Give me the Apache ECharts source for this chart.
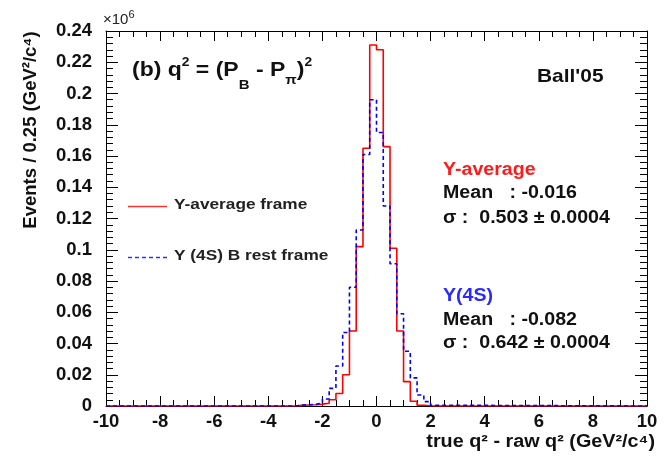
<!DOCTYPE html>
<html><head><meta charset="utf-8">
<script src="https://cdn.jsdelivr.net/npm/echarts@6/dist/echarts.min.js"></script>
<style>html,body{margin:0;padding:0;background:#fff}#c{width:665px;height:463px}</style>
</head><body><div id="c"></div>
<script>
// ---- data ----
const binWidth = 0.25;
const binLeft = [-3,-2.75,-2.5,-2.25,-2,-1.75,-1.5,-1.25,-1,-0.75,-0.5,-0.25,0,0.25,0.5,0.75,1,1.25,1.5,1.75,2];
const redValues  = [0.0004,0.0006,0.0008,0.0012,0.0018,0.004,0.008,0.020,0.048,0.102,0.165,0.231,0.228,0.166,0.101,0.048,0.0156,0.003,0.0005,0.0002,0];
const blueValues = [0.0006,0.0008,0.001,0.002,0.0045,0.0113,0.0256,0.047,0.076,0.1126,0.161,0.196,0.175,0.128,0.091,0.059,0.035,0.018,0.007,0.0028,0.0005];
const xTickLabels = ['-10','-8','-6','-4','-2','0','2','4','6','8','10'];
const yTickLabels = ['0','0.02','0.04','0.06','0.08','0.1','0.12','0.14','0.16','0.18','0.2','0.22','0.24'];
const seriesNames = ['Y-average frame','Y (4S) B rest frame'];

const xMin=-10, xMax=10, xStep=2, yMin=0, yMax=0.24, yStep=0.02;
const FF = "'Liberation Sans', Arial, sans-serif";

function histData(vals){
  const d=[[xMin,0]];
  for(let i=0;i<binLeft.length;i++) d.push([binLeft[i], vals[i]]);
  d.push([binLeft[binLeft.length-1]+binWidth, 0]);
  d.push([xMax,0]);
  return d;
}
const lblStyle = {fontFamily:FF, fontWeight:'bold', fontSize:18.5, color:'#111'};
function xAx(pos, showLabel){
  return {type:'value', position:pos, min:xMin, max:xMax, interval:xStep,
    axisLine:{show:true, onZero:false, lineStyle:{color:'#000', width:1}},
    axisTick:{show:true, inside:true, length:10, lineStyle:{color:'#000'}},
    minorTick:{show:true, splitNumber:4, length:6, lineStyle:{color:'#000'}},
    splitLine:{show:false},
    axisLabel:Object.assign({show:showLabel, margin:6, formatter:v=>xTickLabels[Math.round((v-xMin)/xStep)]}, lblStyle)};
}
function yAx(pos, showLabel){
  return {type:'value', position:pos, min:yMin, max:yMax, interval:yStep,
    axisLine:{show:true, onZero:false, lineStyle:{color:'#000', width:1}},
    axisTick:{show:true, inside:true, length:12, lineStyle:{color:'#000'}},
    minorTick:{show:true, splitNumber:5, length:7, lineStyle:{color:'#000'}},
    splitLine:{show:false},
    axisLabel:Object.assign({show:showLabel, margin:14, formatter:v=>yTickLabels[Math.round((v-yMin)/yStep)]}, lblStyle)};
}
function txt(x,y,text,font,fill,opts){
  return Object.assign({type:'text', x:x, y:y, z:100, silent:true,
    style:{text:text, font:font, fill:fill, textAlign:'left', textVerticalAlign:'middle'}}, opts||{});
}
const B = (s)=>'bold '+s+'px '+FF;

const chart = echarts.init(document.getElementById('c'));
chart.setOption({
  animation:false,
  backgroundColor:'#fff',
  grid:{left:106, right:18, top:31, bottom:57, containLabel:false},
  xAxis:[xAx('bottom', true), xAx('top', false)],
  yAxis:[yAx('left', true), yAx('right', false)],
  series:[
    {name:seriesNames[0], type:'line', step:'end', xAxisIndex:0, yAxisIndex:0, showSymbol:false, symbol:'none',
     data:histData(redValues), lineStyle:{color:'#ff0000', width:1.6}, z:3},
    {name:seriesNames[1], type:'line', step:'end', xAxisIndex:0, yAxisIndex:0, showSymbol:false, symbol:'none',
     data:histData(blueValues), lineStyle:{color:'#0000ff', width:1.6, type:[4,3]}, z:4}
  ],
  graphic:[
    // x10^6
    {type:'text', x:103, y:20, z:100, style:{text:'{a|×10}{s|6}', textAlign:'left', textVerticalAlign:'middle', fill:'#222',
      rich:{a:{font:'15px '+FF, fill:'#222', lineHeight:16}, s:{font:'11px '+FF, fill:'#222', lineHeight:11, padding:[0,0,10,0]}}}},
    // y title
    {type:'text', x:31, y:130, rotation:Math.PI/2, z:100, style:{text:'Events / 0.25 (GeV²/c⁴)', font:B(18.5), fill:'#111', textAlign:'center', textVerticalAlign:'middle'}},
    // x title
    {type:'text', x:655, y:442, scaleX:1.1, z:100, style:{text:'true q² - raw q² (GeV²/c⁴)', font:B(18), fill:'#111', textAlign:'right', textVerticalAlign:'middle'}},
    // plot label
    {type:'text', x:132, y:70, scaleX:1.15, z:100, style:{text:'{a|(b) q}{sup|2}{a| = (P}{sub|B}{a| - P}{sub2|π}{a|)}{sup|2}', textAlign:'left', textVerticalAlign:'middle',
      rich:{a:{font:B(20), fill:'#111', lineHeight:22}, sup:{font:B(12), fill:'#111', lineHeight:12, padding:[0,0,14,0]},
            sub:{font:B(13), fill:'#111', lineHeight:13, padding:[30,0,0,0]}, sub2:{font:B(13), fill:'#111', lineHeight:13, padding:[21,0,0,0]}}}},
    txt(537, 77, "Ball'05", B(19), '#111', {scaleX:1.1}),
    // legend
    {type:'line', z:100, shape:{x1:128, y1:206.5, x2:167, y2:206.5}, style:{stroke:'#ff3030', lineWidth:1.3}},
    txt(174, 205, seriesNames[0], B(15), '#222', {scaleX:1.15}),
    {type:'line', z:100, shape:{x1:128, y1:257.5, x2:167, y2:257.5}, style:{stroke:'#3030ff', lineWidth:1.3, lineDash:[4,3]}},
    txt(174, 256, seriesNames[1], B(15), '#222', {scaleX:1.15}),
    // stats
    txt(443, 170, 'Y-average', B(17.5), '#ff1a1a', {scaleX:1.12}),
    txt(443, 193.5, 'Mean   : -0.016', B(17.5), '#111', {scaleX:1.12}),
    txt(443, 218.5, 'σ :  0.503 ± 0.0004', B(17.5), '#111', {scaleX:1.12}),
    txt(443, 296.5, 'Υ(4S)', B(17.5), '#2a2aff', {scaleX:1.12}),
    txt(443, 320, 'Mean   : -0.082', B(17.5), '#111', {scaleX:1.12}),
    txt(443, 343, 'σ :  0.642 ± 0.0004', B(17.5), '#111', {scaleX:1.12})
  ]
});
</script>
</body></html>
